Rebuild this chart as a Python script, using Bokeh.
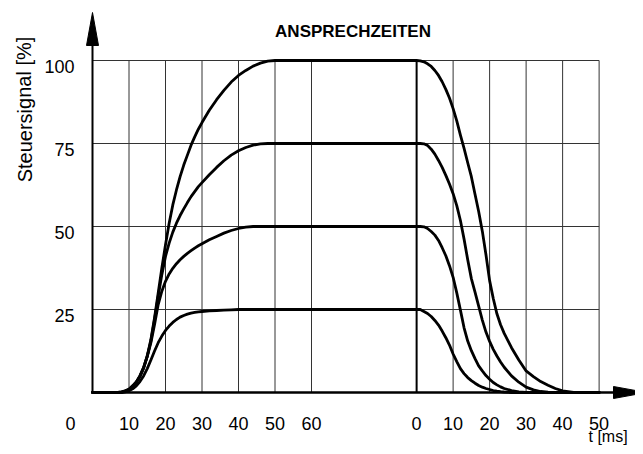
from bokeh.plotting import figure
from bokeh.models import Range1d
from bokeh.embed import file_html
from bokeh.resources import INLINE
from bokeh.core.properties import value

# ---------------- data ----------------
TITLE = "ANSPRECHZEITEN"
Y_LABEL = "Steuersignal [%]"
X_LABEL = "t [ms]"

LEVELS = [25, 50, 75, 100]
Y_TICK_LABELS = ["25", "50", "75", "100"]

RISE_TICKS = [0, 10, 20, 30, 40, 50, 60]
RISE_TICK_LABELS = ["0", "10", "20", "30", "40", "50", "60"]
FALL_TICKS = [0, 10, 20, 30, 40, 50]
FALL_TICK_LABELS = ["0", "10", "20", "30", "40", "50"]

# rising edge (t in ms after switching on)
RISE_T = [0, 7, 8, 9, 10, 11, 12, 13, 14, 15, 16, 17, 18, 19, 20, 21, 22, 23, 24,
          25, 26, 27, 28, 29, 30, 32, 34, 36, 38, 40, 42, 44, 46, 48, 50, 60]
RISE_100 = [0, 0, 0.2, 0.5, 1, 2, 3.2, 5, 7.5, 11, 16, 22.5, 30, 37.5, 44.5, 51, 56.5, 61, 65,
            68.5, 71.5, 74.5, 77, 79.3, 81.3, 85, 88.2, 91, 93.5, 95.5, 97, 98.3, 99.2, 99.8, 100, 100]
RISE_75 = [0, 0, 0.2, 0.5, 1, 2, 3.2, 5, 7.5, 11, 15.5, 22, 29, 35.5, 41, 45, 48.3, 51, 53.3,
           55.3, 57.2, 59, 60.5, 62, 63.2, 65.6, 67.8, 69.8, 71.5, 72.8, 73.8, 74.5, 74.9, 75, 75, 75]
RISE_50 = [0, 0, 0.1, 0.4, 0.9, 1.8, 3, 4.8, 7.3, 10.8, 15, 20.5, 26.5, 30.5, 33.5, 35.7, 37.4, 38.8, 40,
           41, 41.9, 42.7, 43.5, 44.2, 44.8, 46, 47, 48, 48.8, 49.4, 49.8, 50, 50, 50, 50, 50]
RISE_25 = [0, 0, 0, 0.2, 0.5, 1.1, 2, 3.3, 5, 7.2, 9.8, 12.5, 15, 17, 18.7, 20, 21.1, 22, 22.7,
           23.2, 23.6, 23.9, 24.1, 24.3, 24.4, 24.6, 24.7, 24.8, 24.9, 25, 25, 25, 25, 25, 25, 25]

# falling edge (t in ms after switching off)
FALL_T = [0, 1, 2, 3, 4, 5, 6, 7, 8, 9, 10, 11, 12, 13, 14, 15, 16, 17, 18, 19, 20,
          21, 22, 23, 24, 26, 28, 30, 32, 34, 36, 38, 40, 43, 50]
FALL_100 = [100, 99.9, 99.6, 99, 98.2, 97, 95.5, 93.6, 91.3, 88.7, 85.5, 81.8, 77.5, 73.5, 69.2, 65, 59.7,
            54.5, 48.6, 41.5, 33.7, 28.3, 23.7, 20.4, 17.8, 13.5, 9.8, 6.5, 4.8, 3.3, 2.2, 1.2, 0.5, 0, 0]
FALL_75 = [75, 75, 74.9, 74.4, 73.3, 71.8, 69.9, 67.8, 65.4, 62.8, 59.9, 56.3, 51.8, 46.2, 40, 34.3, 30.2,
           26, 21.8, 18.2, 15.4, 13, 11, 9.2, 7.6, 5, 3.1, 1.6, 0.8, 0.3, 0.1, 0, 0, 0, 0]
FALL_50 = [50, 50, 49.9, 49.4, 48.5, 47.4, 45.8, 43.6, 41.2, 38.2, 34.7, 30, 24.8, 19.5, 15.5, 12.6, 10.2,
           8, 6.5, 5.1, 4, 3, 2.3, 1.7, 1.2, 0.6, 0.2, 0, 0, 0, 0, 0, 0, 0, 0]
FALL_25 = [25, 25, 24.4, 23.8, 22.9, 21.7, 20.3, 18.5, 16.5, 14.3, 11.6, 9.3, 7.2, 5.7, 4.5, 3.6, 2.8,
           2.1, 1.6, 1.2, 0.9, 0.6, 0.4, 0.25, 0.15, 0, 0, 0, 0, 0, 0, 0, 0, 0, 0]

# ---------------- layout ----------------
W, H = 635, 446
AX_LEFT_PX = 92        # y-axis position on canvas
AX_BOTTOM_PX = 392     # x-axis position on canvas
PX_X = 3.65            # pixels per ms
PX_Y = 3.32            # pixels per %
FALL_OFFSET = 88.8     # where the second time scale starts


def dx(px):
    return px / PX_X


def dy(px):
    return px / PX_Y


p = figure(width=W, height=H, output_backend="svg", toolbar_location=None,
           x_range=Range1d(-dx(AX_LEFT_PX), dx(W - AX_LEFT_PX)),
           y_range=Range1d(-dy(H - AX_BOTTOM_PX), dy(AX_BOTTOM_PX)),
           min_border=0, outline_line_color=None)
p.axis.visible = False
p.grid.visible = False
p.background_fill_color = "white"
p.border_fill_color = "white"

fall_ticks_x = [FALL_OFFSET + t for t in FALL_TICKS]
x_end = FALL_OFFSET + FALL_TICKS[-1]
top = LEVELS[-1]

# vertical grid
vx = list(RISE_TICKS[1:]) + fall_ticks_x[1:]
p.segment(x0=vx, x1=vx, y0=[0] * len(vx), y1=[top] * len(vx),
          line_color="#333333", line_width=1)
# horizontal grid
p.segment(x0=[0] * len(LEVELS), x1=[x_end] * len(LEVELS), y0=LEVELS, y1=LEVELS,
          line_color="#333333", line_width=1)
# bold line at the switching-off instant
p.segment(x0=[FALL_OFFSET], x1=[FALL_OFFSET], y0=[0], y1=[top],
          line_color="black", line_width=2)

# curves
for rise, fall in [(RISE_25, FALL_25), (RISE_50, FALL_50),
                   (RISE_75, FALL_75), (RISE_100, FALL_100)]:
    xs = RISE_T + [FALL_OFFSET + t for t in FALL_T]
    ys = rise + fall
    p.line(xs, ys, line_color="black", line_width=2.8, line_join="round", line_cap="round")

# axes with arrows
y_tip = dy(AX_BOTTOM_PX - 12)
y_base = dy(AX_BOTTOM_PX - 45)
p.segment(x0=[0], x1=[0], y0=[0], y1=[y_base], line_color="black", line_width=2)
p.patch([-dx(6), dx(6), 0], [y_base, y_base, y_tip], color="black")

x_base = dx(613 - AX_LEFT_PX)
x_tip = dx(646 - AX_LEFT_PX)
p.segment(x0=[0], x1=[x_base], y0=[0], y1=[0], line_color="black", line_width=2.6)
p.patch([x_base, x_base, x_tip], [dy(6), -dy(6), 0], color="black")

FONT = value("Liberation Sans")

# y tick labels
p.text(x=[-dx(18)] * len(LEVELS), y=[v - dy(6) for v in LEVELS], text=Y_TICK_LABELS,
       text_font=FONT, text_font_size="18px", text_align="right",
       text_baseline="alphabetic", text_color="black")

# x tick labels
rise_lab_x = [t if t != 0 else t - dx(22) for t in RISE_TICKS]
lab_x = rise_lab_x + fall_ticks_x
lab_t = RISE_TICK_LABELS + FALL_TICK_LABELS
p.text(x=lab_x, y=[-dy(31)] * len(lab_x), text=lab_t,
       text_font=FONT, text_font_size="18px", text_align="center",
       text_baseline="alphabetic", text_color="black")

# title
p.text(x=[dx(260.5)], y=[dy(361.3)], text=[TITLE], text_font=FONT,
       text_font_style="bold", text_font_size="17px", text_align="center",
       text_baseline="alphabetic", text_color="black")

# y axis label
p.text(x=[-dx(68)], y=[dy(283)], text=[Y_LABEL], text_font=FONT,
       text_font_size="20px", text_align="center", text_baseline="alphabetic",
       angle=1.5708, text_color="black")

# x axis label
p.text(x=[dx(588 - AX_LEFT_PX)], y=[-dy(44)], text=[X_LABEL], text_font=FONT,
       text_font_size="16px", text_align="left", text_baseline="alphabetic",
       text_color="black")

open("out.html", "w").write(file_html(p, INLINE))
